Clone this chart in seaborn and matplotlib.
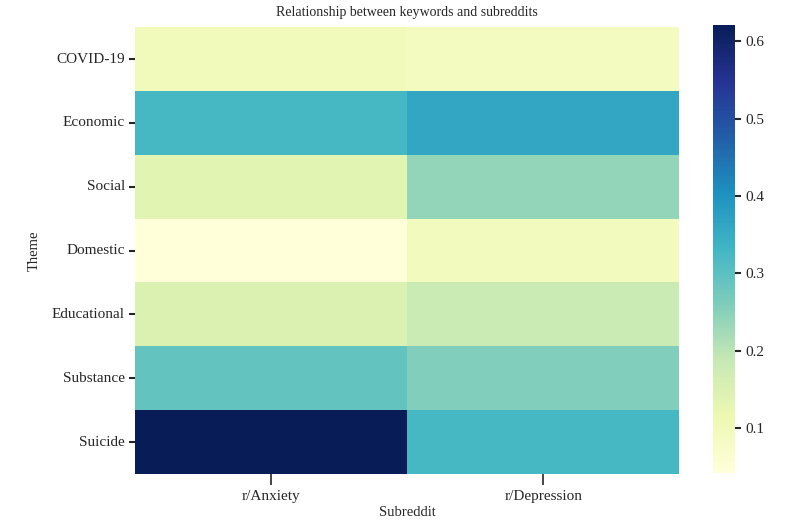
import numpy as np
import pandas as pd
import matplotlib
matplotlib.use("Agg")
import matplotlib.pyplot as plt
import seaborn as sns

sns.set_style("ticks")
plt.rcParams['font.family'] = ['Liberation Serif', 'DejaVu Serif']

# Data
themes = ["COVID-19", "Economic", "Social", "Domestic", "Educational", "Substance", "Suicide"]
subreddits = ["r/Anxiety", "r/Depression"]
anxiety = [0.100, 0.326, 0.135, 0.044, 0.150, 0.291, 0.621]
depression = [0.088, 0.363, 0.239, 0.094, 0.178, 0.259, 0.326]

df = pd.DataFrame({"r/Anxiety": anxiety, "r/Depression": depression}, index=themes)
df.index.name = "Theme"
df.columns.name = "Subreddit"

fig = plt.figure(figsize=(8, 5.22), dpi=100)
ax = fig.add_axes([0.169, 0.092, 0.680, 0.856])
cax = fig.add_axes([0.891, 0.094, 0.028, 0.858])

sns.heatmap(df, cmap="YlGnBu", ax=ax, cbar_ax=cax, vmin=0.042, vmax=0.621)

ax.set_title("Relationship between keywords and subreddits", fontsize=10, pad=8)
ax.set_xlabel("Subreddit", fontsize=10.5, labelpad=2)
ax.set_ylabel("Theme", fontsize=10.5, labelpad=8)
ax.tick_params(axis="y", labelsize=11, length=4, width=1.5, rotation=0)
ax.tick_params(axis="x", labelsize=11, length=8, width=1.2, rotation=0)
cax.tick_params(labelsize=11, length=4, width=1.5)
cax.set_yticks([0.1, 0.2, 0.3, 0.4, 0.5, 0.6])

fig.savefig("out.png", dpi=100)
